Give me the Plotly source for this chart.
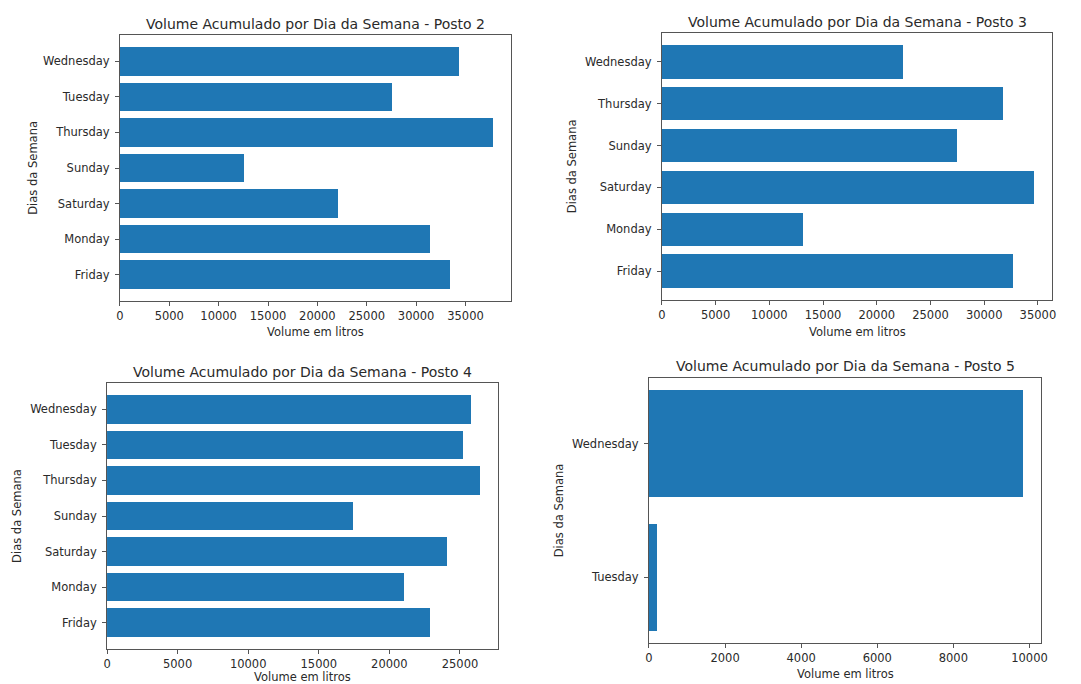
import plotly.graph_objects as go

# Accumulated volume per weekday for each station
days_p2 = ["Friday", "Monday", "Saturday", "Sunday", "Thursday", "Tuesday", "Wednesday"]
vol_p2 = [33400, 31400, 22050, 12550, 37750, 27500, 34350]

days_p3 = ["Friday", "Monday", "Saturday", "Sunday", "Thursday", "Wednesday"]
vol_p3 = [32650, 13100, 34600, 27500, 31750, 22400]

days_p4 = ["Friday", "Monday", "Saturday", "Sunday", "Thursday", "Tuesday", "Wednesday"]
vol_p4 = [22850, 21050, 24050, 17400, 26400, 25250, 25800]

days_p5 = ["Tuesday", "Wednesday"]
vol_p5 = [210, 9820]

ticks_p2 = [0, 5000, 10000, 15000, 20000, 25000, 30000, 35000]
ticks_p3 = [0, 5000, 10000, 15000, 20000, 25000, 30000, 35000]
ticks_p4 = [0, 5000, 10000, 15000, 20000, 25000]
ticks_p5 = [0, 2000, 4000, 6000, 8000, 10000]

titles = [
    "Volume Acumulado por Dia da Semana - Posto 2",
    "Volume Acumulado por Dia da Semana - Posto 3",
    "Volume Acumulado por Dia da Semana - Posto 4",
    "Volume Acumulado por Dia da Semana - Posto 5",
]

W, H = 1081, 684
FONT = "DejaVu Sans"
TXT = "#2a2a2a"
BAR = "#1f77b4"

# Axes boxes in pixels: left, top, right, bottom
boxes = [
    (117, 35, 512, 301),
    (664, 33, 1058, 300),
    (104, 383, 499, 649),
    (651, 378, 1047, 643),
]
# Label anchor points in pixels: title centre y, x-label centre y, y-label centre x
label_pos = [
    (24, 332, 29),
    (22, 332, 573),
    (372, 677, 13),
    (366, 674, 560),
]

panels = [
    (days_p2, vol_p2, ticks_p2),
    (days_p3, vol_p3, ticks_p3),
    (days_p4, vol_p4, ticks_p4),
    (days_p5, vol_p5, ticks_p5),
]


def px(x):
    return x / W


def py(y):
    return 1 - y / H


fig = go.Figure()
annotations = []
layout_axes = {}

for i, ((days, vols, xt), box, lp, title) in enumerate(zip(panels, boxes, label_pos, titles)):
    n = i + 1
    xa = "x" if n == 1 else f"x{n}"
    ya = "y" if n == 1 else f"y{n}"
    fig.add_trace(go.Bar(
        x=vols, y=days, orientation="h", width=0.8,
        marker=dict(color=BAR, line=dict(width=0)),
        xaxis=xa, yaxis=ya, showlegend=False,
    ))
    l, t, r, b = box
    span = (len(days) - 1) + 0.8
    pad = 0.05 * span
    common = dict(
        showline=True, mirror=True, linecolor="#555", linewidth=1,
        ticks="outside", ticklen=4, tickcolor="#555", tickwidth=1,
        showgrid=False, zeroline=False,
        tickfont=dict(family=FONT, size=11.5, color=TXT),
    )
    layout_axes[f"xaxis{'' if n == 1 else n}"] = dict(
        domain=[px(l), px(r)], anchor=ya,
        range=[0, max(vols) * 1.05],
        tickmode="array", tickvals=xt, ticktext=[str(v) for v in xt],
        **common,
    )
    layout_axes[f"yaxis{'' if n == 1 else n}"] = dict(
        domain=[py(b), py(t)], anchor=xa,
        type="category", categoryorder="array", categoryarray=days,
        range=[-0.4 - pad, len(days) - 1 + 0.4 + pad],
        ticklabelstandoff=3,
        **common,
    )
    ty, xly, ylx = lp
    annotations.append(dict(
        text=title, x=px((l + r) / 2), y=py(ty), xref="paper", yref="paper",
        xanchor="center", yanchor="middle", showarrow=False,
        font=dict(family=FONT, size=14, color=TXT),
    ))
    annotations.append(dict(
        text="Volume em litros", x=px((l + r) / 2), y=py(xly), xref="paper", yref="paper",
        xanchor="center", yanchor="middle", showarrow=False,
        font=dict(family=FONT, size=11.5, color=TXT),
    ))
    annotations.append(dict(
        text="Dias da Semana", x=px(ylx), y=py((t + b) / 2), xref="paper", yref="paper",
        xanchor="center", yanchor="middle", showarrow=False, textangle=-90,
        font=dict(family=FONT, size=11.5, color=TXT),
    ))

fig.update_layout(
    width=W, height=H,
    margin=dict(l=0, r=0, t=0, b=0),
    paper_bgcolor="white", plot_bgcolor="white",
    bargap=0,
    annotations=annotations,
    **layout_axes,
)

fig.write_html("out.html")
